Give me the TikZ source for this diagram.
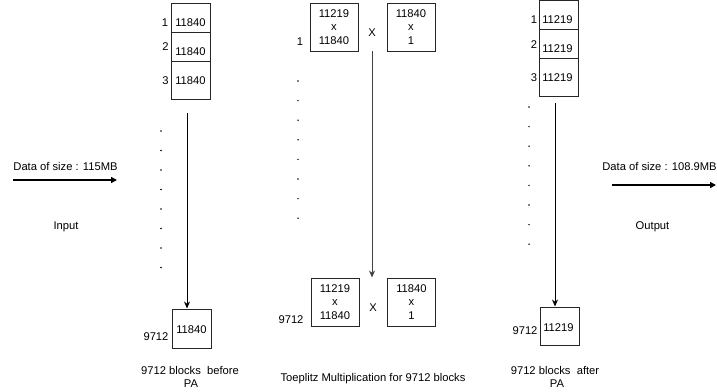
\documentclass[tikz,border=0pt]{standalone}
\usepackage{fontspec}
\setmainfont{Liberation Sans}
\usetikzlibrary{arrows.meta}
\begin{document}
\begin{tikzpicture}[x=1pt,y=-1pt,
  font=\fontsize{11.2}{13}\selectfont,
  blk/.style={draw=black!85, line width=1pt, inner sep=0pt, minimum width=39pt},
  mbox/.style={draw=black!85, line width=1pt, inner sep=0pt, minimum width=48pt, minimum height=48pt,
    align=center, font=\fontsize{11.2}{13.5}\selectfont},
  txt/.style={inner sep=0pt, anchor=base, yshift=-4pt},
  varrow/.style={line width=1pt, -{Stealth[length=7pt,width=6pt]}},
  harrow/.style={line width=1.8pt, -{Triangle[length=6pt,width=6pt]}},
  dotmark/.style={fill=black}]
\useasboundingbox (0,0) rectangle (717,391);

% ---------- left column ----------
\node[blk, minimum height=29pt] (L1) at (190.5,17.5) {};
\node[blk, minimum height=29pt] (L2) at (190.5,46.5) {};
\node[blk, minimum height=38pt] (L3) at (190.5,80) {};
\node[txt] (L1t) at (190.5,22) {11840};
\node[txt] (L2t) at (190.5,51) {11840};
\node[txt] (L3t) at (190.5,80) {11840};
\node[txt] (L1n) at (165,22) {1};
\node[txt] (L2n) at (165.5,46) {2};
\node[txt] (L3n) at (165.5,80) {3};
\foreach \k in {0,...,7} \fill[dotmark] (161,131+19.5*\k) circle (0.8pt);
\node[blk, minimum height=39pt] (Lb) at (191.5,328.5) {};
\node[txt] (Lbt) at (191.5,329) {11840};
\node[txt] (Lbn) at (156,336) {9712};
\coordinate (LA) at (187,113);
\draw[varrow] (LA) -- (LA |- Lb.north);
\coordinate (InS) at (13,180);
\coordinate (InE) at (117,180);
\draw[harrow] (InS) -- (InE);
\node[txt] (InD) at (65.5,166) {Data of size : 115MB};
\node[txt] (In) at (66,225) {Input};
\node[txt] (Lc1) at (190,370) {9712 blocks\ \ before};
\node[txt] (Lc2) at (191,383) {PA};

% ---------- middle column ----------
\node[mbox] (M1a) at (334,27) {11219\\x\\11840};
\node[mbox] (M1b) at (411,27) {11840\\x\\1};
\node[txt] (M1x) at (372,32) {X};
\node[txt] (M1n) at (300,41) {1};
\foreach \k in {0,...,7} \fill[dotmark] (298,81+19.6*\k) circle (0.8pt);
\node[mbox] (Mba) at (335,302) {11219\\x\\11840};
\node[mbox] (Mbb) at (411.5,302) {11840\\x\\1};
\node[txt] (Mbx) at (373,307) {X};
\node[txt] (Mbn) at (291,319) {9712};
\coordinate (MA) at (372,51);
\draw[varrow, draw=black!75] (MA) -- (MA |- Mba.north);
\node[txt] (Mc) at (373,377) {Toeplitz Multiplication for 9712 blocks};

% ---------- right column ----------
\node[blk, minimum height=28.5pt] (R1) at (558.5,14.75) {};
\node[blk, minimum height=29pt] (R2) at (558.5,43.5) {};
\node[blk, minimum height=38pt] (R3) at (558.5,77) {};
\node[txt] (R1t) at (557.5,19) {11219};
\node[txt] (R2t) at (557.5,48) {11219};
\node[txt] (R3t) at (557.5,77) {11219};
\node[txt] (R1n) at (534,19) {1};
\node[txt] (R2n) at (534,44) {2};
\node[txt] (R3n) at (534,77) {3};
\foreach \k in {0,...,7} \fill[dotmark] (529,107+19.6*\k) circle (0.8pt);
\node[blk, minimum height=38pt] (Rb) at (559.5,326) {};
\node[txt] (Rbt) at (558.5,327) {11219};
\node[txt] (Rbn) at (525,330) {9712};
\coordinate (RA) at (555,103);
\draw[varrow] (RA) -- (RA |- Rb.north);
\coordinate (OutS) at (612,185);
\coordinate (OutE) at (716,185);
\draw[harrow] (OutS) -- (OutE);
\node[txt] (OutD) at (659.5,166) {Data of size : 108.9MB};
\node[txt] (Out) at (652.5,225) {Output};
\node[txt] (Rc1) at (555,370) {9712 blocks\ \ after};
\node[txt] (Rc2) at (557,383) {PA};
\end{tikzpicture}
\end{document}
